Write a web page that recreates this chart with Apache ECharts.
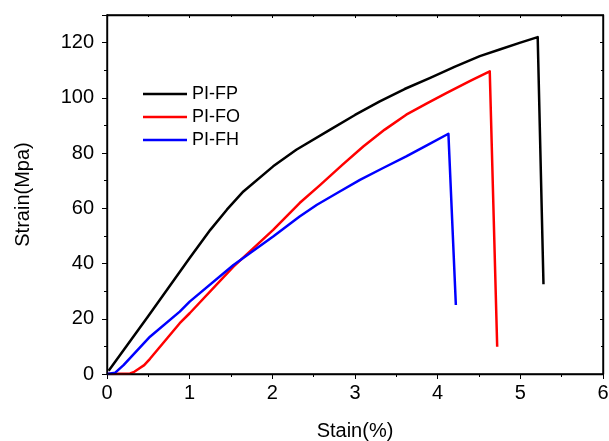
<!DOCTYPE html>
<html>
<head>
<meta charset="utf-8">
<script src="https://cdn.jsdelivr.net/npm/echarts@6/dist/echarts.min.js"></script>
<style>
  html, body { margin: 0; padding: 0; background: #fff; }
  #chart { width: 609px; height: 441px; }
</style>
</head>
<body>
<div id="chart"></div>
<script>
// curves, [strain %, stress MPa]
var fpData = [
  [0.02, 1.2], [0.5, 21], [1.0, 42], [1.25, 52.2], [1.45, 59.5], [1.65, 66.1],
  [2.01, 75.2], [2.29, 81.2], [2.70, 88.5], [3.0, 93.8], [3.30, 98.7],
  [3.60, 103.2], [3.91, 107.2], [4.21, 111.3], [4.51, 115.1], [4.75, 117.5],
  [5.0, 120.0], [5.21, 122.0], [5.28, 32.5]
];
var foData = [
  [0, 0], [0.28, 0.2], [0.33, 0.8], [0.38, 1.8], [0.45, 3.2], [0.52, 5.5],
  [0.88, 18.4], [1.0, 22], [1.53, 38.9], [2.01, 52.2], [2.33, 61.9],
  [2.58, 68.5], [2.85, 75.8], [3.10, 82.4], [3.36, 88.5], [3.62, 93.9],
  [3.87, 98.0], [4.11, 101.8], [4.40, 106.2], [4.63, 109.6], [4.72, 9.9]
];
var fhData = [
  [0, 0], [0.1, 0.5], [0.2, 3.2], [0.52, 13.5], [0.88, 22.6], [1.0, 26.2],
  [1.53, 39.5], [2.01, 49.8], [2.33, 57], [2.54, 61.3], [2.80, 65.8],
  [3.06, 70.3], [3.34, 74.6], [3.62, 78.8], [3.88, 83.0], [4.13, 87.0], [4.22, 25]
];
var seriesNames = ['PI-FP', 'PI-FO', 'PI-FH'];
var seriesColors = ['#000000', '#ff0000', '#0000ff'];
var seriesData = [fpData, foData, fhData];

var gridLeft = 107, gridRight = 6, gridTop = 15, gridBottom = 67;

var chart = echarts.init(document.getElementById('chart'));
var font = 'Liberation Sans, Arial, sans-serif';

var series = [];
for (var i = 0; i < seriesNames.length; i++) {
  series.push({
    name: seriesNames[i],
    type: 'line',
    data: seriesData[i],
    showSymbol: false,
    smooth: false,
    lineStyle: { color: seriesColors[i], width: 2.5, join: 'round' },
    itemStyle: { color: seriesColors[i] }
  });
}
series.push({
  name: 'frame', type: 'line', xAxisIndex: 1, yAxisIndex: 1,
  data: [], showSymbol: false, silent: true
});

chart.setOption({
  animation: false,
  backgroundColor: '#fff',
  grid: {
    left: gridLeft, right: gridRight, top: gridTop, bottom: gridBottom,
    outerBoundsMode: 'none'
  },
  // plot frame
  graphic: [{
    type: 'rect', z: 100, silent: true,
    shape: { x: gridLeft, y: gridTop, width: 609 - gridLeft - gridRight, height: 441 - gridTop - gridBottom },
    style: { fill: 'transparent', stroke: '#000', lineWidth: 1.4 }
  }],
  legend: {
    orient: 'vertical',
    left: 138,
    top: 80,
    icon: 'rect',
    itemWidth: 44,
    itemHeight: 2.5,
    itemGap: 5,
    textStyle: { fontFamily: font, fontSize: 18, color: '#000' },
    data: seriesNames
  },
  xAxis: [{
    type: 'value', min: 0, max: 6, interval: 1,
    name: 'Stain(%)', nameLocation: 'middle', nameGap: 47,
    nameTextStyle: { fontFamily: font, fontSize: 20, color: '#000' },
    axisLine: { show: true, onZero: false, lineStyle: { color: '#000', width: 1.4 } },
    axisTick: { show: true, length: 5, inside: false, lineStyle: { color: '#000' } },
    minorTick: { show: true, splitNumber: 2, length: 3, lineStyle: { color: '#000' } },
    axisLabel: { fontFamily: font, fontSize: 20, color: '#000', margin: 9 },
    splitLine: { show: false }
  }, {
    type: 'value', min: 0, max: 6, interval: 1, position: 'top',
    axisLine: { show: true, onZero: false, lineStyle: { color: '#000', width: 1.4 } },
    axisTick: { show: true, inside: true, length: 3, lineStyle: { color: '#000' } },
    minorTick: { show: true, splitNumber: 2, length: 2, lineStyle: { color: '#000' } },
    axisLabel: { show: false },
    splitLine: { show: false }
  }],
  yAxis: [{
    type: 'value', min: 0, max: 130, interval: 20,
    name: 'Strain(Mpa)', nameLocation: 'middle', nameGap: 74,
    nameTextStyle: { fontFamily: font, fontSize: 20, color: '#000' },
    axisLine: { show: true, onZero: false, lineStyle: { color: '#000', width: 1.4 } },
    axisTick: { show: true, length: 5, lineStyle: { color: '#000' } },
    minorTick: { show: true, splitNumber: 2, length: 3, lineStyle: { color: '#000' } },
    axisLabel: { fontFamily: font, fontSize: 20, color: '#000', margin: 13,
      formatter: function (v) { return v % 20 === 0 ? v : ''; } },
    splitLine: { show: false }
  }, {
    type: 'value', min: 0, max: 130, interval: 20, position: 'right',
    axisLine: { show: true, onZero: false, lineStyle: { color: '#000', width: 1.4 } },
    axisTick: { show: true, inside: true, length: 3, lineStyle: { color: '#000' } },
    minorTick: { show: true, splitNumber: 2, length: 2, lineStyle: { color: '#000' } },
    axisLabel: { show: false },
    splitLine: { show: false }
  }],
  series: series
});
</script>
</body>
</html>
